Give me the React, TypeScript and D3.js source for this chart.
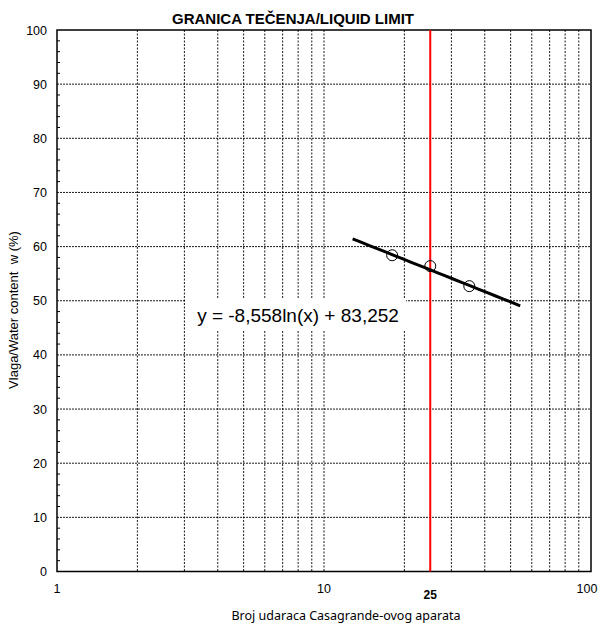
import React from "react";
import * as d3 from "d3";

const blows = [18, 25, 35];
const water = [58.4, 56.4, 52.7];
const slope = -8.558;
const intercept = 83.252;
const fitRange = [12.8, 54.3];
const yTicks = [0, 10, 20, 30, 40, 50, 60, 70, 80, 90, 100];
const xTickLabels = [1, 10, 100];
const liquidLimitBlows = 25;
const equationText = "y = -8,558ln(x) + 83,252";

export default function App() {
  const W = 602, H = 625;
  const left = 57, right = 591, top = 30, bottom = 571.5;
  const x = d3.scaleLog().domain([1, 100]).range([left, right]);
  const y = d3.scaleLinear().domain([0, 100]).range([bottom, top]);

  const xGrid: number[] = [];
  for (let d = 1; d < 100; d *= 10) for (let k = 1; k < 10; k++) {
    const v = d * k;
    if (v > 1 && v < 100) xGrid.push(v);
  }
  const yMinor = d3.range(0, 101, 2).filter((v) => v % 10 !== 0);
  const fitLine = d3.line<number>().x((v) => x(v)).y((v) => y(slope * Math.log(v) + intercept));
  const fitPts = d3.range(0, 21).map((i) => fitRange[0] * Math.pow(fitRange[1] / fitRange[0], i / 20));

  const font = "Liberation Sans, Arial, sans-serif";
  return (
    <svg width={W} height={H} style={{ position: "absolute", left: 0, top: 0 }}>
      <rect width={W} height={H} fill="#fff" />
      {xGrid.map((v) => (
        <line key={"xg" + v} x1={x(v)} x2={x(v)} y1={top} y2={bottom} stroke="#000" strokeWidth={0.9} strokeDasharray="2,1.5" />
      ))}
      {yTicks.filter((v) => v > 0 && v < 100).map((v) => (
        <line key={"yg" + v} x1={left} x2={right} y1={y(v)} y2={y(v)} stroke="#000" strokeWidth={0.9} strokeDasharray="2,1" />
      ))}
      {yMinor.map((v) => (
        <line key={"ym" + v} x1={left} x2={left + 3} y1={y(v)} y2={y(v)} stroke="#000" strokeWidth={1} />
      ))}
      <rect x={left} y={top} width={right - left} height={bottom - top} fill="none" stroke="#000" strokeWidth={1.5} />
      <line x1={x(liquidLimitBlows)} x2={x(liquidLimitBlows)} y1={top} y2={bottom} stroke="#ff0000" strokeWidth={2} />
      <path d={fitLine(fitPts) || ""} fill="none" stroke="#000" strokeWidth={3} />
      {blows.map((b, i) => (
        <circle key={"p" + i} cx={x(b)} cy={y(water[i])} r={5.5} fill="none" stroke="#000" strokeWidth={1} />
      ))}
      <rect x={185} y={299} width={221} height={31} fill="#fff" />
      <text x={298} y={322} textAnchor="middle" fontFamily={font} fontSize={19}>{equationText}</text>
      {yTicks.map((v) => (
        <text key={"yt" + v} x={47} y={y(v) + 4.5} textAnchor="end" fontFamily={font} fontSize={12.5}>{v}</text>
      ))}
      {xTickLabels.map((v) => (
        <text key={"xt" + v} x={v === 100 ? x(v) - 4 : x(v)} y={593} textAnchor="middle" fontFamily={font} fontSize={12.5}>{v}</text>
      ))}
      <text x={x(liquidLimitBlows)} y={599} textAnchor="middle" fontFamily={font} fontSize={12} fontWeight="bold">{liquidLimitBlows}</text>
      <text x={293} y={24} textAnchor="middle" fontFamily={font} fontSize={15} fontWeight="bold">GRANICA TEČENJA/LIQUID LIMIT</text>
      <text x={346} y={620} textAnchor="middle" fontFamily="Noto Sans, sans-serif" fontSize={12.5}>Broj udaraca Casagrande-ovog aparata</text>
      <text transform={`translate(18,310) rotate(-90)`} textAnchor="middle" fontFamily={font} fontSize={13} style={{ whiteSpace: "pre" }}>Vlaga/Water content  w (%)</text>
    </svg>
  );
}
